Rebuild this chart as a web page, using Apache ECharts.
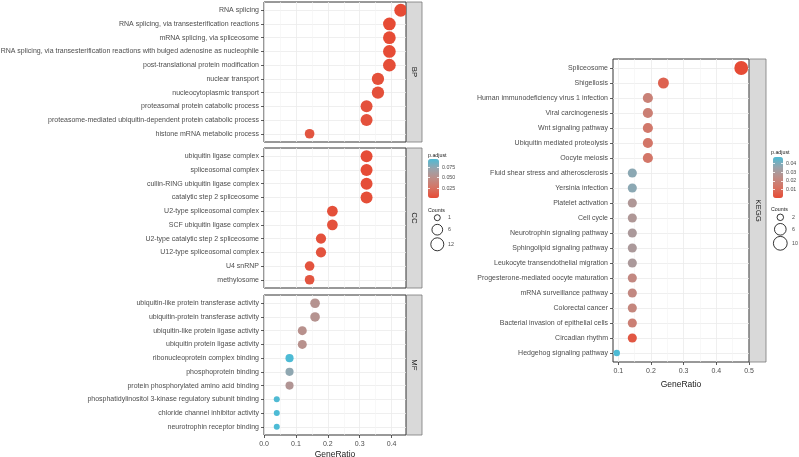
<!DOCTYPE html>
<html><head><meta charset="utf-8">
<script src="https://cdn.jsdelivr.net/npm/echarts@6/dist/echarts.min.js"></script>
<style>html,body{margin:0;padding:0;background:#fff}#c{width:799px;height:457px}</style>
</head><body><div id="c"></div>
<script>
// ---------------- DATA ----------------
const bpTerms = ["RNA splicing","RNA splicing, via transesterification reactions","mRNA splicing, via spliceosome","RNA splicing, via transesterification reactions with bulged adenosine as nucleophile","post-translational protein modification","nuclear transport","nucleocytoplasmic transport","proteasomal protein catabolic process","proteasome-mediated ubiquitin-dependent protein catabolic process","histone mRNA metabolic process"];
const bpRatio = [0.4286,0.3929,0.3929,0.3929,0.3929,0.3571,0.3571,0.3214,0.3214,0.1429];
const bpCount = [12,11,11,11,11,10,10,9,9,4];
const bpPadj  = [0.0023,0.0025,0.0025,0.003,0.004,0.005,0.005,0.006,0.006,0.008];

const ccTerms = ["ubiquitin ligase complex","spliceosomal complex","cullin-RING ubiquitin ligase complex","catalytic step 2 spliceosome","U2-type spliceosomal complex","SCF ubiquitin ligase complex","U2-type catalytic step 2 spliceosome","U12-type spliceosomal complex","U4 snRNP","methylosome"];
const ccRatio = [0.3214,0.3214,0.3214,0.3214,0.2143,0.2143,0.1786,0.1786,0.1429,0.1429];
const ccCount = [9,9,9,9,6,6,5,5,4,4];
const ccPadj  = [0.003,0.003,0.004,0.004,0.005,0.006,0.006,0.007,0.007,0.008];

const mfTerms = ["ubiquitin-like protein transferase activity","ubiquitin-protein transferase activity","ubiquitin-like protein ligase activity","ubiquitin protein ligase activity","ribonucleoprotein complex binding","phosphoprotein binding","protein phosphorylated amino acid binding","phosphatidylinositol 3-kinase regulatory subunit binding","chloride channel inhibitor activity","neurotrophin receptor binding"];
const mfRatio = [0.16,0.16,0.12,0.12,0.08,0.08,0.08,0.04,0.04,0.04];
const mfCount = [4,4,3,3,2,2,2,1,1,1];
const mfPadj  = [0.054,0.054,0.052,0.052,0.094,0.074,0.056,0.093,0.094,0.094];

const keggTerms = ["Spliceosome","Shigellosis","Human immunodeficiency virus 1 infection","Viral carcinogenesis","Wnt signaling pathway","Ubiquitin mediated proteolysis","Oocyte meiosis","Fluid shear stress and atherosclerosis","Yersinia infection","Platelet activation","Cell cycle","Neurotrophin signaling pathway","Sphingolipid signaling pathway","Leukocyte transendothelial migration","Progesterone-mediated oocyte maturation","mRNA surveillance pathway","Colorectal cancer","Bacterial invasion of epithelial cells","Circadian rhythm","Hedgehog signaling pathway"];
const keggRatio = [0.4762,0.2381,0.1905,0.1905,0.1905,0.1905,0.1905,0.1429,0.1429,0.1429,0.1429,0.1429,0.1429,0.1429,0.1429,0.1429,0.1429,0.1429,0.1429,0.0952];
const keggCount = [10,5,4,4,4,4,4,3,3,3,3,3,3,3,3,3,3,3,3,2];
const keggPadj  = [0.0004,0.0075,0.019,0.018,0.015,0.014,0.014,0.038,0.038,0.029,0.029,0.03,0.03,0.03,0.022,0.022,0.021,0.018,0.004,0.0477];

const leftTicks = [0.0,0.1,0.2,0.3,0.4];
const leftMinor = [0.05,0.15,0.25,0.35];
const rightTicks = [0.1,0.2,0.3,0.4,0.5];
const rightMinor = [0.15,0.25,0.35,0.45];
const leftPadjTicks = [0.025,0.050,0.075];
const rightPadjTicks = [0.01,0.02,0.03,0.04];
const leftCountBreaks = [1,6,12];
const rightCountBreaks = [2,6,10];

// ---------------- STYLE / LAYOUT ----------------
const FONT = 'Liberation Sans, Arial, Helvetica, sans-serif';
const gradColors = ['#E64B35','#D77262','#BE8D87','#99A4AC','#4DBBD5'];
const leftRange = [0.0023, 0.094];
const rightRange = [0.0004, 0.0477];
const leftX = [0, 0.445];
const rightX = [0.0838, 0.5];
const leftSize = [6, 13];
const rightSize = [6.5, 13.8];

function sizeOf(c, lim, rng){
  const t = Math.sqrt((c - lim[0]) / (lim[1] - lim[0]));
  return rng[0] + (rng[1] - rng[0]) * t;
}
const leftLim = [Math.min(...bpCount,...ccCount,...mfCount), Math.max(...bpCount,...ccCount,...mfCount)];
const rightLim = [Math.min(...keggCount), Math.max(...keggCount)];

const panels = [
  {terms:bpTerms, ratio:bpRatio, count:bpCount, padj:bpPadj, label:'BP', rect:{left:264,top:2,width:142,height:140}, side:'L', showX:false},
  {terms:ccTerms, ratio:ccRatio, count:ccCount, padj:ccPadj, label:'CC', rect:{left:264,top:148,width:142,height:140}, side:'L', showX:false},
  {terms:mfTerms, ratio:mfRatio, count:mfCount, padj:mfPadj, label:'MF', rect:{left:264,top:295,width:142,height:140}, side:'L', showX:true},
  {terms:keggTerms, ratio:keggRatio, count:keggCount, padj:keggPadj, label:'KEGG', rect:{left:613,top:59,width:136,height:303}, side:'R', showX:true}
];

const grid = [], xAxis = [], yAxis = [], series = [], graphic = [];
panels.forEach((p, i) => {
  const L = p.side === 'L';
  const xr = L ? leftX : rightX;
  const ticks = L ? leftTicks : rightTicks;
  const minor = L ? leftMinor : rightMinor;
  const N = p.terms.length;
  const idx = p.terms.map((_, k) => k);
  grid.push(Object.assign({show:true, borderColor:'#333', borderWidth:1, backgroundColor:'#fff', outerBoundsMode:'none', containLabel:false}, p.rect));
  xAxis.push({
    gridIndex:i, type:'value', min:xr[0], max:xr[1], position:'bottom', z:3,
    axisLine:{show:false, onZero:false},
    axisTick:{show:p.showX, length:p.showX ? 3 : 0, customValues:ticks, lineStyle:{color:p.showX ? '#333' : 'rgba(0,0,0,0)', width:0.8}},
    axisLabel:{show:p.showX, customValues:ticks, fontSize:7, color:'#4D4D4D', margin:6, fontFamily:FONT, formatter:v=>v.toFixed(1)},
    splitLine:{show:true, lineStyle:{color:'#EBEBEB', width:0.8}},
    name:p.showX ? 'GeneRatio' : '', nameLocation:'middle', nameGap:15,
    nameTextStyle:{fontSize:8.5, color:'#1A1A1A', fontFamily:FONT}
  });
  xAxis.push({
    gridIndex:i, type:'value', min:xr[0], max:xr[1], position:'top',
    axisLine:{show:false, onZero:false}, axisLabel:{show:false},
    axisTick:{show:false, length:0, customValues:minor, lineStyle:{color:'rgba(0,0,0,0)', width:0}},
    splitLine:{show:true, lineStyle:{color:'#F3F3F3', width:0.6}}
  });
  yAxis.push({
    gridIndex:i, type:'value', inverse:true, min:-0.6, max:N - 0.4,
    axisLine:{show:false, onZero:false},
    axisTick:{show:true, length:3, customValues:idx, lineStyle:{color:'#333', width:0.8}},
    axisLabel:{customValues:idx, fontSize:7, color:'#4D4D4D', margin:5, fontFamily:FONT, formatter:v=>p.terms[Math.round(v)]},
    splitLine:{show:true, lineStyle:{color:'#EBEBEB', width:0.8}}
  });
  const lim = L ? leftLim : rightLim, rng = L ? leftSize : rightSize;
  series.push({
    type:'scatter', xAxisIndex:2*i, yAxisIndex:i, silent:true, z:5,
    data:p.terms.map((t, k) => [p.ratio[k], k, p.padj[k], p.count[k]]),
    symbolSize:v => sizeOf(v[3], lim, rng),
    itemStyle:{opacity:1}
  });
  // strip
  const sx = p.rect.left + p.rect.width + 0.5;
  const sw = L ? 15.5 : 16.5;
  graphic.push({type:'rect', shape:{x:sx, y:p.rect.top, width:sw, height:p.rect.height},
    style:{fill:'#D9D9D9', stroke:'#7A7A7A', lineWidth:0.8}, z:10});
  graphic.push({type:'text', x:sx + sw/2, y:p.rect.top + p.rect.height/2, rotation:-Math.PI/2,
    style:{text:p.label, fontSize:7.8, fill:'#1A1A1A', fontFamily:FONT, align:'center', verticalAlign:'middle'}, z:11});
});

// colorbar tick label grids
function colorbarAxes(gi, rect, range, ticks, dec){
  grid.push(Object.assign({show:false, outerBoundsMode:'none', containLabel:false}, rect));
  xAxis.push({gridIndex:gi, type:'value', show:false, min:0, max:1});
  yAxis.push({gridIndex:gi, type:'value', min:range[0], max:range[1], position:'right', z:20,
    axisLine:{show:false, onZero:false}, splitLine:{show:false},
    axisTick:{show:true, inside:true, length:2, customValues:ticks, lineStyle:{color:'#fff', width:0.8}},
    axisLabel:{customValues:ticks, fontSize:5.3, color:'#4D4D4D', margin:3, fontFamily:FONT, formatter:v=>v.toFixed(dec)}});
  yAxis.push({gridIndex:gi, type:'value', min:range[0], max:range[1], position:'left', z:20,
    axisLine:{show:false, onZero:false}, splitLine:{show:false}, axisLabel:{show:false},
    axisTick:{show:true, inside:true, length:2, customValues:ticks, lineStyle:{color:'#fff', width:0.8}}});
}
const lcb = {left:428, top:159, width:11, height:39};
const rcb = {left:773, top:157, width:10, height:41};
colorbarAxes(4, lcb, leftRange, leftPadjTicks, 3);
colorbarAxes(5, rcb, rightRange, rightPadjTicks, 2);

const visualMap = [
  {type:'continuous', min:leftRange[0], max:leftRange[1], dimension:2, seriesIndex:[0,1,2],
   inRange:{color:gradColors}, calculable:false, show:true, left:lcb.left, top:lcb.top,
   itemWidth:lcb.width, itemHeight:lcb.height, padding:0, text:null, hoverLink:false},
  {type:'continuous', min:rightRange[0], max:rightRange[1], dimension:2, seriesIndex:[3],
   inRange:{color:gradColors}, calculable:false, show:true, left:rcb.left, top:rcb.top,
   itemWidth:rcb.width, itemHeight:rcb.height, padding:0, text:null, hoverLink:false}
];

// legend titles and size legends
function legendBlock(x, titleY, countTitleY, breaks, ys, lim, rng, labelX){
  graphic.push({type:'text', x:x, y:titleY, style:{text:'p.adjust', fontSize:5.3, fill:'#1A1A1A', fontFamily:FONT, verticalAlign:'middle'}});
  graphic.push({type:'text', x:x, y:countTitleY, style:{text:'Counts', fontSize:5.3, fill:'#1A1A1A', fontFamily:FONT, verticalAlign:'middle'}});
  breaks.forEach((b, k) => {
    const r = sizeOf(b, lim, rng) / 2;
    graphic.push({type:'circle', shape:{cx:x + 9.3, cy:ys[k], r:r}, style:{fill:'none', stroke:'#000', lineWidth:0.8}});
    graphic.push({type:'text', x:labelX, y:ys[k], style:{text:String(b), fontSize:5.3, fill:'#4D4D4D', fontFamily:FONT, verticalAlign:'middle'}});
  });
}
legendBlock(428, 155.5, 210.3, leftCountBreaks, [217.7,229.7,244.3], leftLim, leftSize, 448);
legendBlock(771, 153, 210, rightCountBreaks, [217.3,229.3,243.3], rightLim, rightSize, 792);

const chart = echarts.init(document.getElementById('c'), null, {renderer:'canvas'});
chart.setOption({
  animation:false,
  backgroundColor:'#fff',
  textStyle:{fontFamily:FONT},
  grid, xAxis, yAxis, series, visualMap, graphic
});
</script></body></html>
